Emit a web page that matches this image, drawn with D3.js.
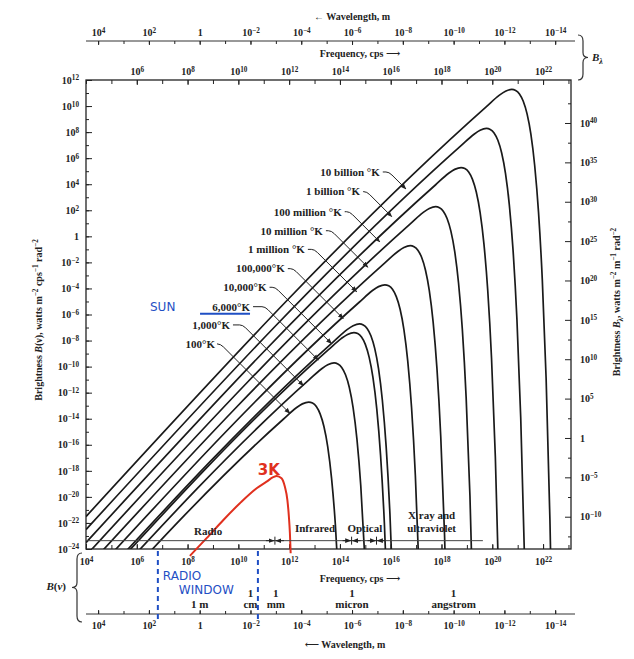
<!DOCTYPE html>
<html>
<head>
<meta charset="utf-8">
<script src="https://cdn.jsdelivr.net/npm/d3@7"></script>
<style>
  body { margin: 0; background: #fff; }
  text { font-family: "Liberation Serif", "DejaVu Serif", serif; fill: #222; }
  .hand { font-family: "DejaVu Sans", sans-serif; }
</style>
</head>
<body>
<svg id="chart" width="634" height="659"></svg>
<script>
"use strict";

// ---- data: every point is [log10 frequency (cps), log10 brightness B(nu)] ----
const curve10BillionK = [[4,-21.51],[19.77,9.96],[20.27,10.82],[20.52,11.14],[20.77,11.28],[20.92,11.20],[21.07,10.93],[21.22,10.37],[21.37,9.40],[21.52,7.84],[21.67,5.44],[21.82,1.88],[21.97,-3.34],[22.12,-10.90],[22.27,-21.76],[22.37,-31.49]];
const curve1BillionK = [[4,-22.51],[18.77,6.96],[19.27,7.82],[19.52,8.14],[19.77,8.28],[19.92,8.20],[20.07,7.93],[20.22,7.37],[20.37,6.40],[20.52,4.84],[20.67,2.44],[20.82,-1.12],[20.97,-6.34],[21.12,-13.90],[21.27,-24.76]];
const curve100MillionK = [[4,-23.51],[17.77,3.96],[18.27,4.82],[18.52,5.14],[18.77,5.28],[18.92,5.20],[19.07,4.93],[19.22,4.37],[19.37,3.40],[19.52,1.84],[19.67,-0.56],[19.82,-4.12],[19.97,-9.34],[20.12,-16.90],[20.27,-27.76]];
const curve10MillionK = [[4,-24.51],[16.77,0.96],[17.27,1.82],[17.52,2.14],[17.77,2.28],[17.92,2.20],[18.07,1.93],[18.22,1.37],[18.37,0.40],[18.52,-1.16],[18.67,-3.56],[18.82,-7.12],[18.97,-12.34],[19.12,-19.90],[19.27,-30.76]];
const curve1MillionK = [[4,-25.51],[15.77,-2.04],[16.27,-1.18],[16.52,-0.86],[16.77,-0.72],[16.92,-0.80],[17.07,-1.07],[17.22,-1.63],[17.37,-2.60],[17.52,-4.16],[17.67,-6.56],[17.82,-10.12],[17.97,-15.34],[18.12,-22.90],[18.27,-33.76]];
const curve100000K = [[4,-26.51],[14.77,-5.04],[15.27,-4.18],[15.52,-3.86],[15.77,-3.72],[15.92,-3.80],[16.07,-4.07],[16.22,-4.63],[16.37,-5.60],[16.52,-7.16],[16.67,-9.56],[16.82,-13.12],[16.97,-18.34],[17.12,-25.90]];
const curve10000K = [[4,-27.51],[13.77,-8.04],[14.27,-7.18],[14.52,-6.86],[14.77,-6.72],[14.92,-6.80],[15.07,-7.07],[15.22,-7.63],[15.37,-8.60],[15.52,-10.16],[15.67,-12.56],[15.82,-16.12],[15.97,-21.34],[16.12,-28.90]];
const curve6000K = [[4,-27.74],[13.55,-8.70],[14.05,-7.85],[14.30,-7.53],[14.55,-7.39],[14.70,-7.46],[14.85,-7.73],[15.00,-8.29],[15.15,-9.27],[15.30,-10.83],[15.45,-13.22],[15.60,-16.79],[15.75,-22.01],[15.90,-29.57]];
const curve1000K = [[4,-28.51],[12.77,-11.04],[13.27,-10.18],[13.52,-9.86],[13.77,-9.72],[13.92,-9.80],[14.07,-10.07],[14.22,-10.63],[14.37,-11.60],[14.52,-13.16],[14.67,-15.56],[14.82,-19.12],[14.97,-24.34]];
const curve100K = [[4,-29.51],[11.77,-14.04],[12.27,-13.18],[12.52,-12.86],[12.77,-12.72],[12.92,-12.80],[13.07,-13.07],[13.22,-13.63],[13.37,-14.60],[13.52,-16.16],[13.67,-18.56],[13.82,-22.12],[13.97,-27.34]];
// the hand drawn red 3 K curve
const curve3K = [[8.09,-24.53],[8.75,-23.17],[9.41,-21.77],[10.06,-20.49],[10.72,-19.34],[11.11,-18.83],[11.37,-18.49],[11.51,-18.39],[11.70,-18.57],[11.83,-19.21],[11.93,-20.23],[11.99,-21.51],[12.03,-22.79],[12.06,-24.32]];

const curveLabels = ["10 billion °K", "1 billion °K", "100 million °K", "10 million °K", "1 million °K",
                     "100,000°K", "10,000°K", "6,000°K", "1,000°K", "100°K"];
// where each leader arrow meets its curve (log10 freq) and where the label text ends
const labelTargetNu = [16.60, 16.04, 15.57, 15.10, 14.66, 14.13, 13.67, 13.15, 12.56, 12.03];
const labelTextNu = [15.57, 14.79, 14.07, 13.33, 12.62, 11.83, 11.11, 10.46, 9.67, 9.08];
const labelTextB = [4.94, 3.43, 1.89, 0.43, -1.0, -2.48, -3.91, -5.40, -6.80, -8.26];

// tick exponents
const freqTickExps = [4, 6, 8, 10, 12, 14, 16, 18, 20, 22];
const wavelengthTickExps = [4, 2, 0, -2, -4, -6, -8, -10, -12, -14];
const brightnessTickExps = [12, 10, 8, 6, 4, 2, 0, -2, -4, -6, -8, -10, -12, -14, -16, -18, -20, -22, -24];
const bLambdaTickExps = [40, 35, 30, 25, 20, 15, 10, 5, 0, -5, -10];

// spectral bands along the bottom line
const bandNames = ["Radio", "Infrared", "Optical"];
const bandNameNu = [8.81, 13.02, 14.98];
const bandDividerNu = [11.44, 14.46, 15.44];
const wavelengthMarks = [["1 m", ""], ["1", "cm"], ["1", "mm"], ["1", "micron"], ["1", "angstrom"]];
const wavelengthMarkM = [1, 1e-2, 1e-3, 1e-6, 1e-10];
const radioWindowNu = [6.83, 10.77];

const SPEED_OF_LIGHT = 3e8;

// ---- layout ----
const svg = d3.select("#chart");
const plotLeft = 86, plotRight = 571, plotTop = 80, plotBottom = 549;

const x = d3.scaleLog().domain([1e4, 10 ** 23.1]).range([plotLeft, plotRight]);
const y = d3.scaleLog().domain([1e-24, 1e12]).range([plotBottom, plotTop]);
const yLambda = d3.scaleLog().domain([10 ** -14.1, 10 ** 45.46]).range([plotBottom, plotTop]);
const xWave = d3.scaleLog().domain([SPEED_OF_LIGHT / 1e4, SPEED_OF_LIGHT / 10 ** 23.1]).range([plotLeft, plotRight]);

const px = u => x(10 ** u);
const py = b => y(10 ** b);

const defs = svg.append("defs");
defs.append("clipPath").attr("id", "plotClip")
  .append("rect").attr("x", plotLeft).attr("y", plotTop)
  .attr("width", plotRight - plotLeft).attr("height", plotBottom - plotTop);
defs.append("marker").attr("id", "arrow").attr("viewBox", "0 0 10 10")
  .attr("refX", 9).attr("refY", 5).attr("markerWidth", 6).attr("markerHeight", 6)
  .attr("orient", "auto")
  .append("path").attr("d", "M0,1L10,5L0,9z").attr("fill", "#222");

function powLabel(sel, exp) {
  sel.text(null);
  if (exp === 0) { sel.text("1"); return; }
  sel.append("tspan").text("10");
  sel.append("tspan").attr("dy", "-0.45em").attr("font-size", "0.72em")
    .text(exp < 0 ? "−" + (-exp) : exp);
}

// parts: [text, mode] with mode "" | "sup" | "sub" | "it"
function richText(sel, parts) {
  let shift = 0;
  parts.forEach(([t, mode]) => {
    const target = mode === "sup" ? -4 : mode === "sub" ? 3 : 0;
    const ts = sel.append("tspan").text(t).attr("dy", target - shift);
    if (mode === "sup" || mode === "sub") ts.attr("font-size", "0.72em");
    if (mode === "it") ts.attr("font-style", "italic");
    shift = target;
  });
}

function styleTicks(g) {
  g.select(".domain").remove();
  g.selectAll(".tick line").attr("stroke", "#222").attr("stroke-width", 1);
  g.selectAll(".tick text").attr("font-size", 10).attr("font-weight", "bold")
    .attr("font-family", '"Liberation Serif", serif');
}

const decade = (lo, hi) => d3.range(lo, hi + 1).map(e => 10 ** e);

// ---- frequency axes (bottom and top of the frame) ----
svg.append("g").attr("transform", `translate(0,${plotBottom})`)
  .call(d3.axisBottom(x).tickValues(decade(4, 23)).tickSize(-4).tickFormat(""))
  .call(styleTicks);
svg.append("g").attr("transform", `translate(0,${plotBottom})`)
  .call(d3.axisBottom(x).tickValues(freqTickExps.map(e => 10 ** e)).tickSize(-5).tickPadding(9))
  .call(styleTicks)
  .selectAll(".tick text").each(function(d) { powLabel(d3.select(this), Math.round(Math.log10(d))); });

svg.append("g").attr("transform", `translate(0,${plotTop})`)
  .call(d3.axisTop(x).tickValues(decade(4, 23)).tickSize(-4).tickFormat(""))
  .call(styleTicks);
svg.append("g").attr("transform", `translate(0,${plotTop})`)
  .call(d3.axisTop(x).tickValues(freqTickExps.slice(1).map(e => 10 ** e)).tickSize(-5).tickPadding(5))
  .call(styleTicks)
  .selectAll(".tick text").each(function(d) { powLabel(d3.select(this), Math.round(Math.log10(d))); });

// ---- brightness axes ----
svg.append("g").attr("transform", `translate(${plotLeft},0)`)
  .call(d3.axisLeft(y).tickValues(decade(-24, 12)).tickSize(-3).tickFormat(""))
  .call(styleTicks);
svg.append("g").attr("transform", `translate(${plotLeft},0)`)
  .call(d3.axisLeft(y).tickValues(brightnessTickExps.map(e => 10 ** e)).tickSize(-6).tickPadding(7))
  .call(styleTicks)
  .selectAll(".tick text").each(function(d) { powLabel(d3.select(this), Math.round(Math.log10(d))); });

svg.append("g").attr("transform", `translate(${plotRight},0)`)
  .call(d3.axisRight(yLambda).tickValues(d3.range(-12.5, 45, 5).map(e => 10 ** e)).tickSize(-3).tickFormat(""))
  .call(styleTicks);
svg.append("g").attr("transform", `translate(${plotRight},0)`)
  .call(d3.axisRight(yLambda).tickValues(bLambdaTickExps.map(e => 10 ** e)).tickSize(-6).tickPadding(9))
  .call(styleTicks)
  .selectAll(".tick text").each(function(d) { powLabel(d3.select(this), Math.round(Math.log10(d))); });

// ---- wavelength axes (top and bottom) ----
const waveTopY = 41, waveBottomY = 614;
[waveTopY, waveBottomY].forEach(yy => {
  const top = yy === waveTopY;
  const axisFn = top ? d3.axisTop : d3.axisBottom;
  svg.append("line").attr("x1", plotLeft).attr("x2", plotRight + 4).attr("y1", yy).attr("y2", yy)
    .attr("stroke", "#333").attr("stroke-width", 1);
  svg.append("g").attr("transform", `translate(0,${yy})`)
    .call(axisFn(xWave).tickValues(decade(-14, 4)).tickSize(-3).tickFormat(""))
    .call(styleTicks);
  svg.append("g").attr("transform", `translate(0,${yy})`)
    .call(axisFn(xWave).tickValues(wavelengthTickExps.map(e => 10 ** e)).tickSize(-4).tickPadding(top ? 5 : 8))
    .call(styleTicks)
    .selectAll(".tick text").each(function(d) { powLabel(d3.select(this), Math.round(Math.log10(d))); });
});

// ---- frame ----
svg.append("rect").attr("x", plotLeft).attr("y", plotTop)
  .attr("width", plotRight - plotLeft).attr("height", plotBottom - plotTop)
  .attr("fill", "none").attr("stroke", "#222").attr("stroke-width", 1.3);

// ---- blackbody curves ----
const blackbody = [curve10BillionK, curve1BillionK, curve100MillionK, curve10MillionK, curve1MillionK,
                   curve100000K, curve10000K, curve6000K, curve1000K, curve100K];
const line = d3.line().x(d => x(10 ** d[0])).y(d => y(10 ** d[1])).curve(d3.curveMonotoneX);

svg.append("g").attr("clip-path", "url(#plotClip)")
  .selectAll("path").data(blackbody).join("path")
  .attr("d", line).attr("fill", "none").attr("stroke", "#1a1a1a").attr("stroke-width", 1.7);

svg.append("path").datum(curve3K).attr("d", line)
  .attr("fill", "none").attr("stroke", "#e0301e").attr("stroke-width", 2);

// ---- curve labels with leader arrows ----
function curveValueAt(curve, u) {
  for (let i = 1; i < curve.length; i++) {
    if (curve[i][0] >= u) {
      const [u0, b0] = curve[i - 1], [u1, b1] = curve[i];
      return b0 + (b1 - b0) * (u - u0) / (u1 - u0);
    }
  }
  return curve[curve.length - 1][1];
}

const labelG = svg.append("g");
curveLabels.forEach((label, i) => {
  const tx = px(labelTextNu[i]), ty = py(labelTextB[i]);
  const ax = px(labelTargetNu[i]), ay = py(curveValueAt(blackbody[i], labelTargetNu[i]));
  labelG.append("text").attr("x", tx).attr("y", ty).attr("dy", "0.35em")
    .attr("text-anchor", "end").attr("font-size", 11).attr("font-weight", "bold").text(label);
  const bend = ax - (ay - ty);
  labelG.append("path")
    .attr("d", `M${tx + 3},${ty} L${bend - 3},${ty} Q${bend},${ty} ${bend + 3},${ty + 3} L${ax},${ay}`)
    .attr("fill", "none").attr("stroke", "#222").attr("stroke-width", 1)
    .attr("marker-end", "url(#arrow)");
});

// ---- band line and names ----
const bandY = py(-23.36);
svg.append("line").attr("x1", plotLeft).attr("x2", px(19.63)).attr("y1", bandY).attr("y2", bandY)
  .attr("stroke", "#444").attr("stroke-width", 1);
bandNames.forEach((name, i) => {
  svg.append("text").attr("x", px(bandNameNu[i])).attr("y", bandY - (i === 0 ? 6 : 9))
    .attr("text-anchor", "middle").attr("font-size", 11).attr("font-weight", "bold").text(name);
});
svg.append("text").attr("x", px(17.61)).attr("y", bandY - 22).attr("text-anchor", "middle")
  .attr("font-size", 11).attr("font-weight", "bold").text("X ray and");
svg.append("text").attr("x", px(17.61)).attr("y", bandY - 9).attr("text-anchor", "middle")
  .attr("font-size", 11).attr("font-weight", "bold").text("ultraviolet");
bandDividerNu.forEach(u => {
  const bx = px(u);
  svg.append("line").attr("x1", bx).attr("x2", bx).attr("y1", bandY - 4).attr("y2", bandY + 4)
    .attr("stroke", "#222").attr("stroke-width", 1);
  [[bx - 9, bx - 1], [bx + 9, bx + 1]].forEach(([a, b]) => {
    svg.append("line").attr("x1", a).attr("x2", b).attr("y1", bandY).attr("y2", bandY)
      .attr("stroke", "#222").attr("stroke-width", 1).attr("marker-end", "url(#arrow)");
  });
});

// ---- axis titles ----
svg.append("text").attr("x", 352).attr("y", 20).attr("text-anchor", "middle")
  .attr("font-size", 10).attr("font-weight", "bold").text("← Wavelength, m");
svg.append("text").attr("x", 360).attr("y", 57).attr("text-anchor", "middle")
  .attr("font-size", 10).attr("font-weight", "bold").text("Frequency, cps ⟶");
svg.append("text").attr("x", 360).attr("y", 582).attr("text-anchor", "middle")
  .attr("font-size", 10).attr("font-weight", "bold").text("Frequency, cps ⟶");
svg.append("text").attr("x", 345).attr("y", 648).attr("text-anchor", "middle")
  .attr("font-size", 10).attr("font-weight", "bold").text("⟵ Wavelength, m");

svg.append("text").attr("transform", "translate(42,320) rotate(-90)").attr("text-anchor", "middle")
  .attr("font-size", 10).attr("font-weight", "bold")
  .call(richText, [["Brightness ", ""], ["B", "it"], ["(ν), watts m", ""], ["−2", "sup"], [" cps", ""], ["−1", "sup"], [" rad", ""], ["−2", "sup"]]);
svg.append("text").attr("transform", "translate(620,302) rotate(-90)").attr("text-anchor", "middle")
  .attr("font-size", 10).attr("font-weight", "bold")
  .call(richText, [["Brightness ", ""], ["B", "it"], ["λ", "sub"], [", watts m", ""], ["−2", "sup"], [" m", ""], ["−1", "sup"], [" rad", ""], ["−2", "sup"]]);

// ---- braces ----
function bracePath(x0, y1, y2, w) {
  const ym = (y1 + y2) / 2, h = w / 2;
  return `M${x0},${y1} Q${x0 + h},${y1} ${x0 + h},${y1 + 6} L${x0 + h},${ym - 5} Q${x0 + h},${ym} ${x0 + w},${ym}` +
         ` Q${x0 + h},${ym} ${x0 + h},${ym + 5} L${x0 + h},${y2 - 6} Q${x0 + h},${y2} ${x0},${y2}`;
}
svg.append("path").attr("d", bracePath(578, 35, 80, 10)).attr("fill", "none").attr("stroke", "#333").attr("stroke-width", 1.2);
svg.append("text").attr("x", 592).attr("y", 61).attr("font-size", 11).attr("font-style", "italic")
  .attr("font-weight", "bold").call(richText, [["B", ""], ["λ", "sub"]]);
svg.append("path").attr("d", bracePath(82, 553, 622, -10)).attr("fill", "none").attr("stroke", "#333").attr("stroke-width", 1.2);
svg.append("text").attr("x", 66).attr("y", 590).attr("text-anchor", "end").attr("font-size", 11)
  .attr("font-weight", "bold").call(richText, [["B", "it"], ["(", ""], ["ν", "it"], [")", ""]]);

// ---- wavelength landmarks above the lower wavelength axis ----
wavelengthMarks.forEach(([a, b], i) => {
  const wx = xWave(wavelengthMarkM[i]);
  if (b === "") {
    svg.append("text").attr("x", wx).attr("y", 608).attr("text-anchor", "middle")
      .attr("font-size", 11).attr("font-weight", "bold").text(a);
  } else {
    svg.append("text").attr("x", wx).attr("y", 597).attr("text-anchor", "middle")
      .attr("font-size", 11).attr("font-weight", "bold").text(a);
    svg.append("text").attr("x", wx).attr("y", 608).attr("text-anchor", "middle")
      .attr("font-size", 11).attr("font-weight", "bold").text(b);
  }
});

// ---- hand written annotations ----
const blue = "#1f4fc4", red = "#e0301e";
radioWindowNu.forEach(u => {
  svg.append("line").attr("x1", px(u)).attr("x2", px(u)).attr("y1", plotBottom + 2).attr("y2", 622)
    .attr("stroke", blue).attr("stroke-width", 2).attr("stroke-dasharray", "5,4");
});
svg.append("text").attr("class", "hand").attr("x", px(radioWindowNu[0]) + 5).attr("y", 580)
  .attr("font-size", 12).style("fill", blue).text("RADIO");
svg.append("text").attr("class", "hand").attr("x", px(radioWindowNu[0]) + 21).attr("y", 594)
  .attr("font-size", 12).style("fill", blue).text("WINDOW");

const sunIdx = curveLabels.indexOf("6,000°K");
const sunY = py(labelTextB[sunIdx]);
svg.append("text").attr("class", "hand").attr("x", 150).attr("y", sunY).attr("dy", "0.35em")
  .attr("font-size", 12).style("fill", blue).text("SUN");
svg.append("line").attr("x1", px(labelTextNu[sunIdx]) - 50).attr("x2", px(labelTextNu[sunIdx]))
  .attr("y1", sunY + 7).attr("y2", sunY + 7).attr("stroke", blue).attr("stroke-width", 2);

svg.append("text").attr("class", "hand").attr("x", px(11.2)).attr("y", py(-18.35))
  .attr("text-anchor", "middle").attr("font-size", 15).attr("font-weight", "bold")
  .style("fill", red).text("3K");
</script>
</body>
</html>
